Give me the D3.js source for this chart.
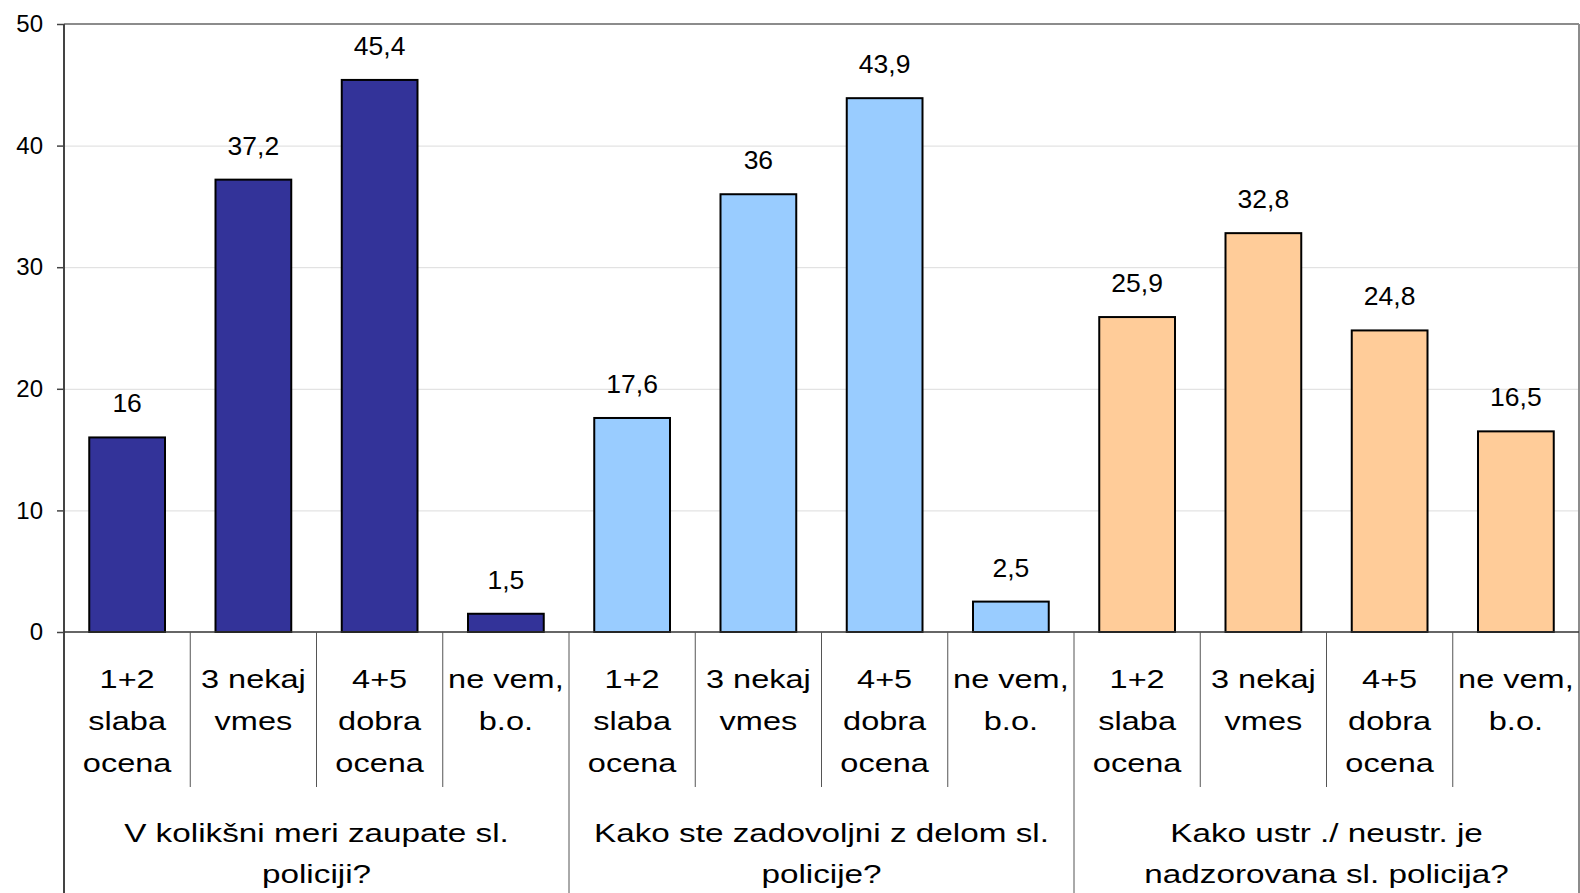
<!DOCTYPE html>
<html>
<head>
<meta charset="utf-8">
<script src="https://cdn.jsdelivr.net/npm/d3@7"></script>
<style>
  html, body { margin: 0; padding: 0; background: #fff; }
  svg { display: block; font-family: "Liberation Sans", Arial, sans-serif; }
</style>
</head>
<body>
<div id="chart"></div>
<script>
// groups (questions) and the answer categories inside each one
const groups = [
  'V kolikšni meri zaupate sl.\npoliciji?',
  'Kako ste zadovoljni z delom sl.\npolicije?',
  'Kako ustr ./ neustr. je\nnadzorovana sl. policija?'
];
const categories = ['1+2\nslaba\nocena', '3 nekaj\nvmes', '4+5\ndobra\nocena', 'ne vem,\nb.o.'];
const zaupanje = [16, 37.2, 45.4, 1.5];
const zadovoljstvo = [17.6, 36, 43.9, 2.5];
const nadzor = [25.9, 32.8, 24.8, 16.5];
const groupColors = ['#333399', '#99ccff', '#ffcc99'];
const yTicks = [0, 10, 20, 30, 40, 50];

const seriesValues = [zaupanje, zadovoljstvo, nadzor];

// flatten into one row per bar
const rows = [];
groups.forEach((g, gi) => {
  categories.forEach((c, ci) => {
    rows.push({ key: gi + '-' + ci, group: gi, label: c, value: seriesValues[gi][ci] });
  });
});

const W = 1580, H = 893;
const margin = { top: 24, right: 1, bottom: 261, left: 64 };
const innerW = W - margin.left - margin.right;
const innerH = H - margin.top - margin.bottom;

const svg = d3.select('#chart')
  .append('svg')
  .attr('width', W)
  .attr('height', H);

const g = svg.append('g')
  .attr('transform', `translate(${margin.left},${margin.top})`);

// scales
const x = d3.scaleBand()
  .domain(rows.map(d => d.key))
  .range([0, innerW])
  .paddingInner(0.4)
  .paddingOuter(0.2);

const xGroup = d3.scaleBand()
  .domain(d3.range(groups.length))
  .range([0, innerW]);

const y = d3.scaleLinear()
  .domain([0, 50])
  .range([innerH, 0]);

// gridlines
g.append('g')
  .call(d3.axisLeft(y).tickValues(yTicks.slice(1)).tickSize(-innerW).tickFormat(''))
  .call(s => s.select('.domain').remove())
  .selectAll('line')
  .attr('stroke', '#dcdcdc')
  .attr('stroke-width', 1);

// top and right frame
g.append('line')
  .attr('x1', 0).attr('x2', innerW)
  .attr('y1', 0).attr('y2', 0)
  .attr('stroke', '#8c8c8c').attr('stroke-width', 2);
g.append('line')
  .attr('x1', innerW).attr('x2', innerW)
  .attr('y1', 0).attr('y2', H - margin.top)
  .attr('stroke', '#8c8c8c').attr('stroke-width', 2);

// y axis
const yAxis = g.append('g')
  .call(d3.axisLeft(y).tickValues(yTicks).tickSize(7).tickPadding(14));
yAxis.select('.domain').remove();
yAxis.selectAll('line').attr('stroke', '#444').attr('stroke-width', 1.5);
yAxis.selectAll('text')
  .attr('fill', '#000')
  .style('font-size', '24px');

// bars
g.selectAll('rect.bar')
  .data(rows)
  .enter()
  .append('rect')
  .attr('class', 'bar')
  .attr('x', d => x(d.key))
  .attr('y', d => y(d.value))
  .attr('width', x.bandwidth())
  .attr('height', d => y(0) - y(d.value))
  .attr('fill', d => groupColors[d.group])
  .attr('stroke', '#000')
  .attr('stroke-width', 2);

// value labels (source text is a little wide, so stretch it a bit)
g.selectAll('text.val')
  .data(rows)
  .enter()
  .append('text')
  .attr('class', 'val')
  .attr('transform', d => `translate(${x(d.key) + x.bandwidth() / 2},${y(d.value) - 25}) scale(1.06,1)`)
  .attr('text-anchor', 'middle')
  .style('font-size', '25px')
  .text(d => String(d.value).replace('.', ','));

// left axis line, down to the bottom of the group labels
g.append('line')
  .attr('x1', 0).attr('x2', 0)
  .attr('y1', 0).attr('y2', H - margin.top)
  .attr('stroke', '#444').attr('stroke-width', 2);

// zero line
g.append('line')
  .attr('x1', 0).attr('x2', innerW)
  .attr('y1', y(0)).attr('y2', y(0))
  .attr('stroke', '#333').attr('stroke-width', 1.5);

// separators between categories
const step = x.step();
g.selectAll('line.catsep')
  .data(rows.filter((d, i) => i % categories.length !== 0))
  .enter()
  .append('line')
  .attr('class', 'catsep')
  .attr('x1', d => x(d.key) - step * 0.2)
  .attr('x2', d => x(d.key) - step * 0.2)
  .attr('y1', y(0))
  .attr('y2', y(0) + 155)
  .attr('stroke', '#555').attr('stroke-width', 1);

// separators between groups
g.selectAll('line.grpsep')
  .data(d3.range(1, groups.length))
  .enter()
  .append('line')
  .attr('class', 'grpsep')
  .attr('x1', d => xGroup(d))
  .attr('x2', d => xGroup(d))
  .attr('y1', y(0))
  .attr('y2', H - margin.top)
  .attr('stroke', '#555').attr('stroke-width', 1);

// category labels
const catLabels = g.selectAll('text.cat')
  .data(rows)
  .enter()
  .append('text')
  .attr('class', 'cat')
  .attr('transform', d => `translate(${x(d.key) + x.bandwidth() / 2},0) scale(1.25,1)`)
  .attr('text-anchor', 'middle')
  .style('font-size', '26px');
catLabels.each(function (d) {
  const t = d3.select(this);
  d.label.split('\n').forEach((line, i) => {
    t.append('tspan')
      .attr('x', 0)
      .attr('y', y(0) + 56 + i * 42)
      .text(line);
  });
});

// group labels
const grpLabels = g.selectAll('text.grp')
  .data(groups)
  .enter()
  .append('text')
  .attr('class', 'grp')
  .attr('transform', (d, gi) => `translate(${xGroup(gi) + xGroup.bandwidth() / 2},0) scale(1.28,1)`)
  .attr('text-anchor', 'middle')
  .style('font-size', '26px');
grpLabels.each(function (d) {
  const t = d3.select(this);
  d.split('\n').forEach((line, i) => {
    t.append('tspan')
      .attr('x', 0)
      .attr('y', y(0) + 210 + i * 41)
      .text(line);
  });
});
</script>
</body>
</html>
